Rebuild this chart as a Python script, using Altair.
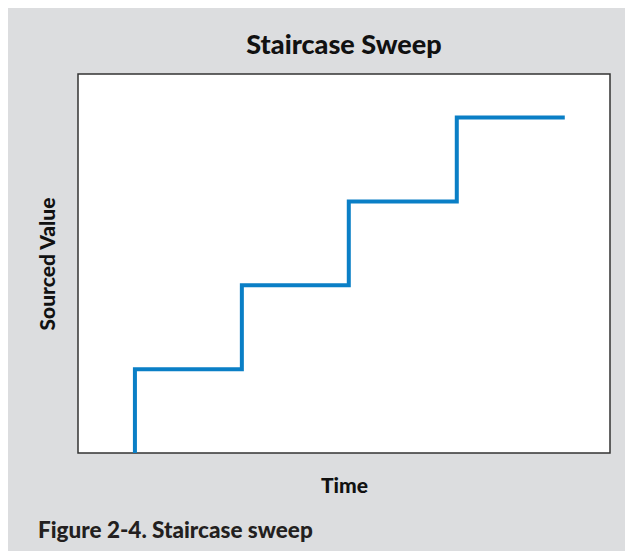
import altair as alt
import pandas as pd

# Step start times (x) and sourced levels (y)
times = [1.07, 3.08, 5.09, 7.12, 9.15]
levels = [0, 1, 2, 3, 4]
caption_text = ["Figure 2-4. Staircase sweep"]

df = pd.DataFrame({"time": times, "value": levels})
cap_df = pd.DataFrame({"t": caption_text})

FONT = "Lato"

line = alt.Chart(df).mark_line(
    interpolate="step-before", color="#0a7fc6", strokeWidth=4, strokeCap="butt"
).encode(
    x=alt.X("time:Q", scale=alt.Scale(domain=[0, 10], nice=False, zero=False),
            axis=alt.Axis(title="Time", labels=False, ticks=False, domain=False, grid=False,
                          titlePadding=22, titleFont=FONT, titleFontSize=21,
                          titleFontWeight=900, titleColor="#111111")),
    y=alt.Y("value:Q", scale=alt.Scale(domain=[0, 4.52], nice=False, zero=False),
            axis=alt.Axis(title="Sourced Value", labels=False, ticks=False, domain=False, grid=False,
                          titlePadding=20, titleFont=FONT, titleFontSize=21,
                          titleFontWeight=900, titleColor="#111111")),
)

caption = alt.Chart(cap_df).mark_text(
    align="left", baseline="alphabetic", font=FONT, fontSize=22.5, fontWeight=900,
    color="#231f20"
).encode(x=alt.value(-40), y=alt.value(464), text="t:N")

chart = alt.layer(line, caption).properties(
    width=532, height=379,
    autosize=alt.AutoSizeParams(type="none"),
    padding={"left": 70, "top": 66, "right": 15, "bottom": 98},
    background="#dcdddf",
    title=alt.TitleParams("Staircase Sweep", font=FONT, fontSize=27, fontWeight=900,
                          color="#111111", anchor="middle", offset=14),
).configure_view(stroke="#333333", strokeWidth=1.5, fill="white")

chart.save("out.html", embed_options={"renderer": "svg", "actions": False})
